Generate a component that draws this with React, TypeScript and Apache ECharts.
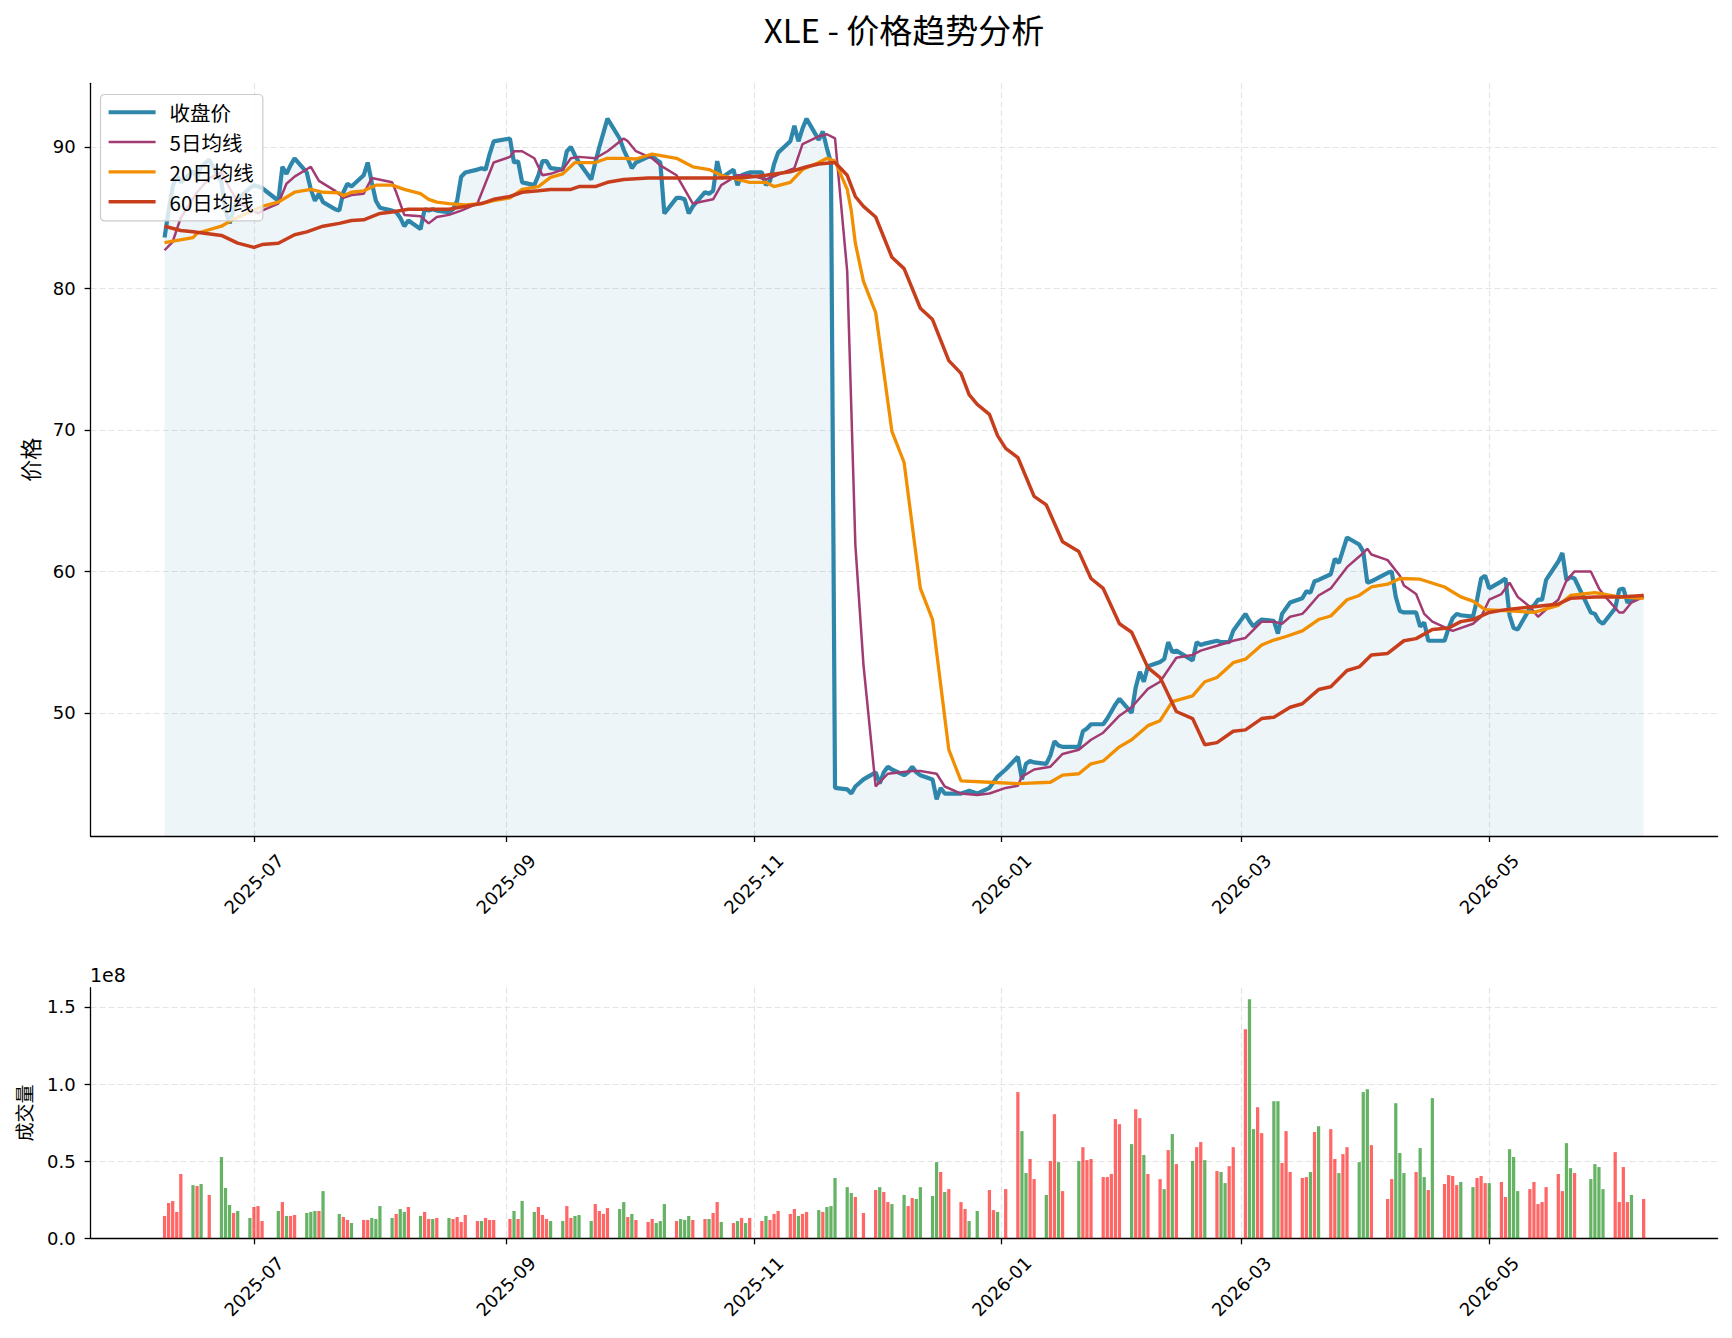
import React, { useEffect, useRef } from "react";
import * as echarts from "echarts";

// ---------------- data ----------------
const TICKER = "XLE";
const START_DATE = "2025-06-09";
const END_DATE = "2026-06-08";
const HOLIDAYS = [
  "2025-06-19", "2025-07-04", "2025-09-01", "2025-11-27", "2025-12-25",
  "2026-01-01", "2026-01-19", "2026-02-16", "2026-04-03", "2026-05-25",
];

// closing price, one value per trading day (weekly groups)
const CLOSE: number[] = [
  83.6, 85.5, 87.2, 88.0, 87.5,
  88.3, 87.8, 88.6, 89.1,
  87.5, 85.5, 84.6, 85.6, 86.3,
  87.1, 87.3, 87.2, 87.1,
  86.2, 88.6, 88.1, 88.7, 89.2,
  88.2, 87.0, 86.2, 86.7, 86.1,
  85.6, 85.5, 86.8, 87.4, 87.2,
  88.0, 88.9, 87.5, 86.2, 85.7,
  85.5, 85.4, 85.0, 84.4, 84.8,
  84.2, 85.6, 85.5, 85.6, 85.5,
  85.4, 85.6, 86.2, 87.9, 88.2,
  88.4, 88.5, 88.4, 89.5, 90.4,
  90.6, 88.9, 89.0, 87.5,
  87.3, 88.0, 89.0, 89.0, 88.5,
  88.4, 89.7, 90.0, 89.4, 88.9,
  87.7, 88.9, 90.0, 91.0, 92.0,
  90.6, 89.8, 89.2, 88.5, 88.9,
  89.3, 89.4, 89.1, 88.9, 85.3,
  86.4, 86.4, 86.3, 85.3, 85.8,
  86.8, 86.7, 86.9, 89.0, 87.8,
  88.4, 87.3, 88.0, 88.1, 88.2,
  88.2, 87.3, 87.6, 88.8, 89.6,
  90.4, 91.5, 90.4, 91.3, 92.0,
  90.5, 91.1, 89.9, 88.9, 44.7,
  44.6, 44.3, 44.8, 45.3,
  45.8, 45.0, 45.8, 46.2, 46.0,
  45.6, 45.8, 46.2, 45.8, 45.6,
  45.3, 43.9, 44.7, 44.3, 44.3,
  44.3, 44.4, 44.5, 44.3,
  44.7, 45.1, 45.5, 46.0,
  46.9, 45.3, 46.4, 46.6, 46.5,
  46.4, 47.0, 48.0, 47.7, 47.6,
  47.6, 48.7, 48.9, 49.2,
  49.2, 49.6, 50.1, 50.6, 51.0,
  50.0, 51.8, 52.9, 52.2, 53.3,
  53.6, 53.8, 55.0, 54.3, 54.4,
  53.7, 55.0, 54.8, 54.9,
  55.1, 55.0, 55.0, 55.0, 55.8,
  57.0, 56.5, 56.1, 56.4, 56.6,
  56.5, 55.6, 57.0, 57.4, 57.8,
  58.1, 58.6, 58.5, 59.3, 59.4,
  59.8, 60.9, 60.6, 61.5, 62.4,
  61.9, 61.4, 59.2, 59.3,
  59.9, 60.0, 58.2, 57.2, 57.1,
  57.1, 56.1, 56.4, 55.1, 55.1,
  55.1, 56.0, 56.7, 57.0, 56.9,
  56.8, 58.0, 59.5, 59.7, 58.8,
  59.3, 59.5, 56.9, 56.0, 55.9,
  57.4, 57.6, 58.0, 58.0, 59.4,
  60.7, 61.3, 59.4, 59.6, 59.5,
  57.1, 57.0, 56.5, 56.3,
  57.4, 58.7, 58.8, 57.8, 58.0,
  58.3,
];

// volume in millions of shares, one value per trading day
const VOLUME_M: number[] = [
  14.5, 22.9, 24.2, 17.1, 41.7,
  34.5, 33.9, 35.2, 28.1,
  52.7, 32.6, 21.6, 16.4, 17.7,
  13.2, 20.3, 20.9, 11.2,
  17.7, 23.5, 14.5, 14.5, 15.1,
  16.4, 17.1, 17.7, 17.7, 30.6,
  0, 15.8, 13.8, 11.9, 9.9,
  11.9, 11.9, 13.2, 12.5, 20.9,
  13.2, 15.8, 19.0, 17.1, 20.3,
  14.5, 17.1, 12.5, 12.5, 13.2,
  13.2, 12.5, 13.8, 10.6, 15.1,
  11.2, 11.2, 13.2, 11.9, 11.9,
  12.5, 17.7, 12.5, 24.2,
  17.1, 20.3, 15.1, 12.5, 11.2,
  11.2, 20.9, 13.2, 14.5, 15.1,
  11.2, 22.2, 17.7, 15.8, 19.6,
  19.0, 23.5, 13.8, 15.8, 11.9,
  10.6, 12.5, 9.9, 11.2, 22.2,
  11.2, 12.5, 11.9, 14.5, 11.9,
  12.5, 12.5, 16.4, 23.5, 10.6,
  9.9, 11.2, 13.2, 9.9, 13.2,
  11.2, 14.5, 11.9, 15.8, 17.7,
  15.8, 19.0, 14.5, 15.8, 17.1,
  18.3, 17.1, 20.3, 20.9, 39.1,
  33.2, 29.4, 26.8, 16.4,
  31.3, 33.2, 30.0, 23.5, 22.2,
  28.1, 20.9, 26.1, 25.5, 33.2,
  27.4, 49.4, 43.0, 30.0, 31.9,
  23.5, 19.0, 11.2, 17.7,
  31.3, 18.3, 17.1, 31.9,
  94.8, 69.5, 42.3, 51.4, 38.4,
  28.1, 50.1, 80.5, 49.4, 30.6,
  50.1, 59.1, 50.7, 51.4,
  39.7, 39.7, 41.7, 77.3, 74.0,
  61.1, 83.7, 77.9, 54.0, 41.7,
  38.4, 31.9, 57.2, 67.6, 48.1,
  50.1, 59.1, 62.4, 50.7,
  43.6, 43.0, 35.8, 46.8, 59.1,
  135.5, 155.0, 70.8, 85.0, 68.2,
  88.9, 88.9, 48.8, 69.5, 43.0,
  39.1, 39.7, 43.0, 68.9, 72.7,
  70.8, 51.4, 42.3, 54.6, 59.1,
  49.4, 94.8, 96.7, 60.4,
  25.5, 38.4, 87.6, 55.3, 42.3,
  43.0, 58.5, 39.7, 31.3, 90.9,
  35.2, 41.0, 40.4, 34.5, 36.5,
  33.2, 39.1, 40.4, 35.8, 35.8,
  36.5, 26.8, 57.8, 52.7, 30.6,
  31.9, 36.5, 22.2, 23.5, 33.2,
  41.7, 30.6, 61.7, 45.5, 42.3,
  38.4, 48.1, 46.2, 31.9,
  55.9, 23.5, 46.2, 23.5, 28.1,
  25.5,
];

// bar colour per trading day: R = red, G = green
const VOLUME_DIR =
  "RRRRR GRGR GGGRG GRRR GRGRR GGGRG RGRRG RRGGG GRGGR GRRGR GRRRR RGRRR RGRG " +
  "GRRRG GRRGG GRRRR GGRGR RRGGG RGGGR RGRRG RGRGR RGRRR RRGRR GRGGG GGRR " +
  "RGRRG GRRGG GGRGR RRGG RRGR RGGRR GRRGR GRRR RRRRR GRRGR RGRGR GRRG RGGRR " +
  "RGGRR GGRRR RRGRG RRGRR GGGR RRGGG RGGRG RRRRG GRRRG RRGGG RRRRR RRGGR GGGG RRRRG R";

const MA5: [string, number][] = [
  ["2025-06-09", 82.7], ["2025-06-11", 83.3], ["2025-06-13", 85.0], ["2025-06-17", 86.8],
  ["2025-06-20", 87.8], ["2025-06-23", 88.2], ["2025-06-25", 87.1], ["2025-06-27", 86.1],
  ["2025-06-30", 85.6], ["2025-07-02", 85.3], ["2025-07-03", 85.5], ["2025-07-07", 86.0],
  ["2025-07-09", 87.4], ["2025-07-11", 87.9], ["2025-07-15", 88.6], ["2025-07-17", 87.6],
  ["2025-07-21", 86.9], ["2025-07-23", 86.4], ["2025-07-25", 86.6], ["2025-07-28", 86.7],
  ["2025-07-30", 87.8], ["2025-08-04", 87.5], ["2025-08-05", 86.8], ["2025-08-07", 85.2],
  ["2025-08-11", 85.1], ["2025-08-13", 84.6], ["2025-08-15", 85.05], ["2025-08-18", 85.2],
  ["2025-08-21", 85.5], ["2025-08-25", 86.0], ["2025-08-29", 88.9], ["2025-09-02", 89.3],
  ["2025-09-03", 89.7], ["2025-09-05", 89.7], ["2025-09-08", 89.2], ["2025-09-10", 88.0],
  ["2025-09-12", 88.1], ["2025-09-15", 88.4], ["2025-09-17", 89.2], ["2025-09-19", 89.3],
  ["2025-09-23", 89.2], ["2025-09-26", 89.7], ["2025-09-30", 90.6], ["2025-10-01", 90.4],
  ["2025-10-03", 89.7], ["2025-10-07", 89.2], ["2025-10-09", 88.7], ["2025-10-13", 88.0],
  ["2025-10-17", 86.0], ["2025-10-22", 86.3], ["2025-10-24", 87.3], ["2025-10-28", 88.0],
  ["2025-10-31", 88.0], ["2025-11-04", 87.7], ["2025-11-11", 88.5], ["2025-11-13", 90.2],
  ["2025-11-17", 90.75], ["2025-11-19", 90.9], ["2025-11-21", 90.6], ["2025-11-24", 81.2],
  ["2025-11-25", 71.6], ["2025-11-26", 61.9], ["2025-11-28", 53.4], ["2025-12-01", 44.8],
  ["2025-12-03", 45.4], ["2025-12-04", 45.7], ["2025-12-10", 45.9], ["2025-12-12", 45.9],
  ["2025-12-16", 45.7], ["2025-12-18", 44.8], ["2025-12-22", 44.3], ["2025-12-26", 44.2],
  ["2025-12-29", 44.3], ["2026-01-02", 44.7], ["2026-01-05", 44.85], ["2026-01-06", 45.5],
  ["2026-01-09", 46.0], ["2026-01-13", 46.2], ["2026-01-16", 47.1], ["2026-01-20", 47.4],
  ["2026-01-23", 48.1], ["2026-01-26", 48.6], ["2026-01-30", 49.8], ["2026-02-02", 50.4],
  ["2026-02-06", 51.7], ["2026-02-09", 52.2], ["2026-02-13", 53.9], ["2026-02-17", 54.1],
  ["2026-02-19", 54.4], ["2026-02-23", 54.75], ["2026-02-27", 55.1], ["2026-03-02", 55.3],
  ["2026-03-06", 56.45], ["2026-03-09", 56.45], ["2026-03-11", 56.3], ["2026-03-13", 56.8],
  ["2026-03-16", 57.0], ["2026-03-17", 57.3], ["2026-03-20", 58.3], ["2026-03-23", 58.8],
  ["2026-03-27", 60.3], ["2026-03-30", 61.05], ["2026-04-01", 61.6], ["2026-04-02", 61.2],
  ["2026-04-06", 60.8], ["2026-04-09", 59.7], ["2026-04-10", 59.0], ["2026-04-13", 58.4],
  ["2026-04-15", 57.0], ["2026-04-17", 56.45], ["2026-04-22", 55.8], ["2026-04-27", 56.3],
  ["2026-04-29", 56.8], ["2026-05-01", 58.0], ["2026-05-04", 58.4], ["2026-05-06", 59.2],
  ["2026-05-08", 58.2], ["2026-05-11", 57.5], ["2026-05-13", 56.8], ["2026-05-15", 57.3],
  ["2026-05-18", 58.0], ["2026-05-20", 59.35], ["2026-05-22", 60.0], ["2026-05-26", 60.0],
  ["2026-05-28", 58.8], ["2026-05-29", 58.4], ["2026-06-02", 57.1], ["2026-06-03", 57.1],
  ["2026-06-05", 57.8], ["2026-06-08", 58.2],
];

const MA20: [string, number][] = [
  ["2025-06-09", 83.24], ["2025-06-16", 83.6], ["2025-06-17", 83.9], ["2025-06-23", 84.4],
  ["2025-06-26", 84.9], ["2025-06-30", 85.4], ["2025-07-03", 85.8], ["2025-07-07", 86.1],
  ["2025-07-11", 86.8], ["2025-07-15", 87.0], ["2025-07-18", 86.8], ["2025-07-22", 86.75],
  ["2025-07-23", 86.55], ["2025-07-25", 86.8], ["2025-07-28", 86.9], ["2025-07-31", 87.3],
  ["2025-08-04", 87.3], ["2025-08-07", 87.0], ["2025-08-11", 86.7], ["2025-08-13", 86.3],
  ["2025-08-15", 86.1], ["2025-08-18", 86.0], ["2025-08-22", 85.9], ["2025-08-26", 86.0],
  ["2025-08-29", 86.2], ["2025-09-02", 86.4], ["2025-09-05", 87.0], ["2025-09-09", 87.2],
  ["2025-09-12", 87.85], ["2025-09-15", 88.1], ["2025-09-18", 88.9], ["2025-09-23", 88.9],
  ["2025-09-26", 89.2], ["2025-09-30", 89.2], ["2025-10-03", 89.15], ["2025-10-07", 89.5],
  ["2025-10-13", 89.2], ["2025-10-17", 88.6], ["2025-10-21", 88.4], ["2025-10-24", 88.0],
  ["2025-10-28", 87.7], ["2025-10-31", 87.5], ["2025-11-04", 87.5], ["2025-11-06", 87.2],
  ["2025-11-10", 87.5], ["2025-11-13", 88.4], ["2025-11-17", 88.9], ["2025-11-19", 89.2],
  ["2025-11-21", 89.0], ["2025-11-24", 87.0], ["2025-11-25", 85.5], ["2025-11-26", 83.2],
  ["2025-11-28", 80.5], ["2025-12-01", 78.3], ["2025-12-05", 69.9], ["2025-12-08", 67.7],
  ["2025-12-12", 58.8], ["2025-12-15", 56.6], ["2025-12-19", 47.4], ["2025-12-22", 45.2],
  ["2025-12-29", 45.1], ["2026-01-05", 45.0], ["2026-01-13", 45.1], ["2026-01-16", 45.6],
  ["2026-01-20", 45.7], ["2026-01-23", 46.4], ["2026-01-26", 46.6], ["2026-01-30", 47.6],
  ["2026-02-02", 48.1], ["2026-02-06", 49.1], ["2026-02-09", 49.45], ["2026-02-12", 50.8],
  ["2026-02-17", 51.2], ["2026-02-20", 52.2], ["2026-02-23", 52.5], ["2026-02-27", 53.55],
  ["2026-03-02", 53.8], ["2026-03-06", 54.8], ["2026-03-09", 55.15], ["2026-03-12", 55.4],
  ["2026-03-16", 55.8], ["2026-03-20", 56.6], ["2026-03-23", 56.85], ["2026-03-27", 58.0],
  ["2026-03-30", 58.3], ["2026-04-02", 58.9], ["2026-04-06", 59.1], ["2026-04-09", 59.5],
  ["2026-04-14", 59.45], ["2026-04-20", 58.9], ["2026-04-24", 58.2], ["2026-04-27", 57.9],
  ["2026-04-30", 57.3], ["2026-05-07", 57.2], ["2026-05-12", 57.1], ["2026-05-18", 57.6],
  ["2026-05-21", 58.3], ["2026-05-27", 58.5], ["2026-06-02", 58.2], ["2026-06-08", 58.1],
];

const MA60: [string, number][] = [
  ["2025-06-09", 84.4], ["2025-06-13", 84.1], ["2025-06-16", 84.0], ["2025-06-23", 83.75],
  ["2025-06-27", 83.2], ["2025-07-01", 82.9], ["2025-07-03", 83.1], ["2025-07-07", 83.2],
  ["2025-07-11", 83.8], ["2025-07-14", 84.0], ["2025-07-18", 84.4], ["2025-07-22", 84.6],
  ["2025-07-25", 84.8], ["2025-07-28", 84.85], ["2025-08-01", 85.3], ["2025-08-04", 85.4],
  ["2025-08-08", 85.6], ["2025-08-13", 85.6], ["2025-08-18", 85.6], ["2025-08-22", 85.8],
  ["2025-08-26", 86.0], ["2025-08-29", 86.3], ["2025-09-02", 86.5], ["2025-09-05", 86.8],
  ["2025-09-09", 86.9], ["2025-09-12", 87.0], ["2025-09-17", 87.0], ["2025-09-19", 87.2],
  ["2025-09-23", 87.2], ["2025-09-26", 87.5], ["2025-09-30", 87.7], ["2025-10-06", 87.8],
  ["2025-10-15", 87.8], ["2025-10-23", 87.8], ["2025-10-30", 87.85], ["2025-11-04", 88.0],
  ["2025-11-10", 88.25], ["2025-11-14", 88.6], ["2025-11-17", 88.8], ["2025-11-21", 88.9],
  ["2025-11-24", 88.0], ["2025-11-26", 86.5], ["2025-11-28", 85.8], ["2025-12-01", 85.05],
  ["2025-12-05", 82.2], ["2025-12-08", 81.4], ["2025-12-12", 78.6], ["2025-12-15", 77.8],
  ["2025-12-19", 74.9], ["2025-12-22", 74.0], ["2025-12-24", 72.5], ["2025-12-26", 71.8],
  ["2025-12-29", 71.1], ["2025-12-31", 69.6], ["2026-01-02", 68.7], ["2026-01-05", 68.05],
  ["2026-01-09", 65.3], ["2026-01-12", 64.7], ["2026-01-16", 62.1], ["2026-01-20", 61.4],
  ["2026-01-23", 59.5], ["2026-01-26", 58.8], ["2026-01-30", 56.3], ["2026-02-02", 55.7],
  ["2026-02-06", 53.2], ["2026-02-09", 52.5], ["2026-02-13", 50.1], ["2026-02-17", 49.6],
  ["2026-02-20", 47.75], ["2026-02-23", 47.9], ["2026-02-27", 48.7], ["2026-03-02", 48.8],
  ["2026-03-06", 49.6], ["2026-03-09", 49.7], ["2026-03-13", 50.4], ["2026-03-16", 50.65],
  ["2026-03-20", 51.65], ["2026-03-23", 51.85], ["2026-03-27", 53.0], ["2026-03-30", 53.25],
  ["2026-04-02", 54.1], ["2026-04-06", 54.2], ["2026-04-10", 55.1], ["2026-04-13", 55.25],
  ["2026-04-17", 55.9], ["2026-04-21", 56.0], ["2026-04-24", 56.45], ["2026-04-27", 56.6],
  ["2026-05-01", 57.1], ["2026-05-05", 57.3], ["2026-05-12", 57.5], ["2026-05-18", 57.7],
  ["2026-05-21", 58.1], ["2026-05-27", 58.2], ["2026-06-02", 58.2], ["2026-06-08", 58.3],
];

const X_TICKS = ["2025-07-01", "2025-09-01", "2025-11-01", "2026-01-01", "2026-03-01", "2026-05-01"];
const PRICE_TICKS = [50, 60, 70, 80, 90];
const PRICE_RANGE = [41.3, 94.5];
const VOLUME_TICKS = [0, 0.5e8, 1.0e8, 1.5e8];
const VOLUME_MAX = 1.625e8;

const SERIES_NAMES = ["收盘价", "5日均线", "20日均线", "60日均线"];
const SERIES_COLORS = ["#2E86AB", "#A23B72", "#F18F01", "#C73E1D"];
const SERIES_WIDTHS = [4.2, 2.5, 3.3, 3.5];

// ---------------- helpers ----------------
const DAY = 86400000;
const ts = (s: string) => {
  const [y, m, d] = s.split("-").map(Number);
  return Date.UTC(y, m - 1, d);
};

function tradingDays(): number[] {
  const hol = new Set(HOLIDAYS);
  const out: number[] = [];
  for (let t = ts(START_DATE); t <= ts(END_DATE); t += DAY) {
    const dt = new Date(t);
    const wd = dt.getUTCDay();
    if (wd === 0 || wd === 6) continue;
    if (hol.has(dt.toISOString().slice(0, 10))) continue;
    out.push(t);
  }
  return out;
}

const fmtMonth = (v: number) => {
  const d = new Date(v);
  return `${d.getUTCFullYear()}-${String(d.getUTCMonth() + 1).padStart(2, "0")}`;
};

const CJK = "'Noto Sans CJK SC', 'DejaVu Sans', sans-serif";
const TICK_FONT = "'DejaVu Sans', 'Noto Sans CJK SC', sans-serif";

function buildOption() {
  const days = tradingDays();
  const dirs = VOLUME_DIR.replace(/\s+/g, "");
  const t0 = ts(START_DATE);
  const t1 = ts(END_DATE);
  const span = t1 - t0;
  const xMin = t0 - 0.05 * span;
  const xMax = t1 + 0.05 * span;
  const xTickVals = X_TICKS.map(ts);

  const axisLineStyle = { color: "#000", width: 1.3 };
  const gridLine = { show: true, lineStyle: { color: "#e4e4e4", width: 1.2, type: [6, 3] as any } };

  const makeX = (gridIndex: number) => ({
    type: "value",
    gridIndex,
    min: xMin,
    max: xMax,
    axisLine: { show: true, onZero: false, lineStyle: axisLineStyle },
    axisTick: { show: true, customValues: xTickVals, length: 6, lineStyle: axisLineStyle },
    axisLabel: {
      customValues: xTickVals,
      formatter: (v: number) => fmtMonth(v),
      rotate: 45,
      align: "center",
      verticalAlign: "middle",
      margin: 48,
      fontSize: 18,
      color: "#000",
      fontFamily: TICK_FONT,
    },
    splitLine: gridLine,
  });

  const closeData = days.map((t, i) => [t, CLOSE[i]]);
  const volData = days.map((t, i) => ({
    value: [t, VOLUME_M[i] * 1e6],
    itemStyle: { color: dirs[i] === "R" ? "rgba(255,0,0,0.6)" : "rgba(0,128,0,0.6)" },
  }));
  const toPts = (arr: [string, number][]) => arr.map(([d, v]) => [ts(d), v]);
  const lineSeries = (i: number, data: any[], extra: any = {}) => ({
    name: SERIES_NAMES[i],
    type: "line",
    xAxisIndex: 0,
    yAxisIndex: 0,
    data,
    symbol: "none",
    lineStyle: { color: SERIES_COLORS[i], width: SERIES_WIDTHS[i] },
    itemStyle: { color: SERIES_COLORS[i] },
    ...extra,
  });

  return {
    animation: false,
    backgroundColor: "#fff",
    legend: {
      data: SERIES_NAMES.map((name, i) => ({
        name,
        lineStyle: { width: SERIES_WIDTHS[i], color: SERIES_COLORS[i] },
      })),
      orient: "vertical",
      left: 100.5,
      top: 94.5,
      itemWidth: 47,
      itemHeight: 14,
      itemGap: 9.3,
      padding: [7.5, 9, 9, 6],
      backgroundColor: "rgba(255,255,255,0.8)",
      borderColor: "#cccccc",
      borderWidth: 1.2,
      borderRadius: 4,
      itemStyle: { opacity: 0 },
      textStyle: { fontSize: 20.5, color: "#000", fontFamily: CJK, padding: [0, 0, 0, 9] },
    },
    grid: [
      { left: 90.6, top: 83.3, width: 1627, height: 752.7 },
      { left: 90.6, top: 987.7, width: 1627, height: 250.6 },
    ],
    xAxis: [makeX(0), makeX(1)],
    yAxis: [
      {
        type: "value",
        gridIndex: 0,
        min: PRICE_RANGE[0],
        max: PRICE_RANGE[1],
        name: "价格",
        nameLocation: "middle",
        nameGap: 51,
        nameRotate: 90,
        nameTextStyle: { fontSize: 22, color: "#000", fontFamily: CJK },
        axisLine: { show: true, lineStyle: axisLineStyle },
        axisTick: { show: true, customValues: PRICE_TICKS, length: 6, lineStyle: axisLineStyle },
        axisLabel: {
          customValues: PRICE_TICKS,
          fontSize: 18,
          color: "#000",
          margin: 15,
          fontFamily: TICK_FONT,
        },
        splitLine: gridLine,
      },
      {
        type: "value",
        gridIndex: 1,
        min: 0,
        max: VOLUME_MAX,
        name: "成交量",
        nameLocation: "middle",
        nameGap: 58,
        nameRotate: 90,
        nameTextStyle: { fontSize: 19, color: "#000", fontFamily: CJK },
        axisLine: { show: true, lineStyle: axisLineStyle },
        axisTick: { show: true, customValues: VOLUME_TICKS, length: 6, lineStyle: axisLineStyle },
        axisLabel: {
          customValues: VOLUME_TICKS,
          formatter: (v: number) => (v / 1e8).toFixed(1),
          fontSize: 18,
          color: "#000",
          margin: 15,
          fontFamily: TICK_FONT,
        },
        splitLine: gridLine,
      },
    ],
    graphic: [
      {
        type: "text",
        x: 904,
        y: 29,
        style: {
          text: `${TICKER} - 价格趋势分析`,
          fontSize: 33,
          fontFamily: CJK,
          fill: "#000",
          align: "center",
          verticalAlign: "middle",
        },
      },
      {
        type: "text",
        x: 90,
        y: 975,
        style: {
          text: "1e8",
          fontSize: 19,
          fontFamily: TICK_FONT,
          fill: "#000",
          align: "left",
          verticalAlign: "middle",
        },
      },
    ],
    series: [
      lineSeries(0, closeData, { areaStyle: { color: "rgba(46,134,171,0.12)", origin: "start" } }),
      lineSeries(1, toPts(MA5)),
      lineSeries(2, toPts(MA20)),
      lineSeries(3, toPts(MA60)),
      {
        name: "成交量",
        type: "bar",
        xAxisIndex: 1,
        yAxisIndex: 1,
        data: volData,
        barWidth: 3.25,
      },
    ],
  };
}

export default function App() {
  const ref = useRef<HTMLDivElement>(null);
  useEffect(() => {
    if (!ref.current) return;
    const chart = echarts.init(ref.current, null, { renderer: "svg" });
    chart.setOption(buildOption() as any);
    return () => chart.dispose();
  }, []);
  return (
    <div
      ref={ref}
      style={{ position: "absolute", left: 0, top: 0, width: 1732, height: 1338, background: "#fff" }}
    />
  );
}
